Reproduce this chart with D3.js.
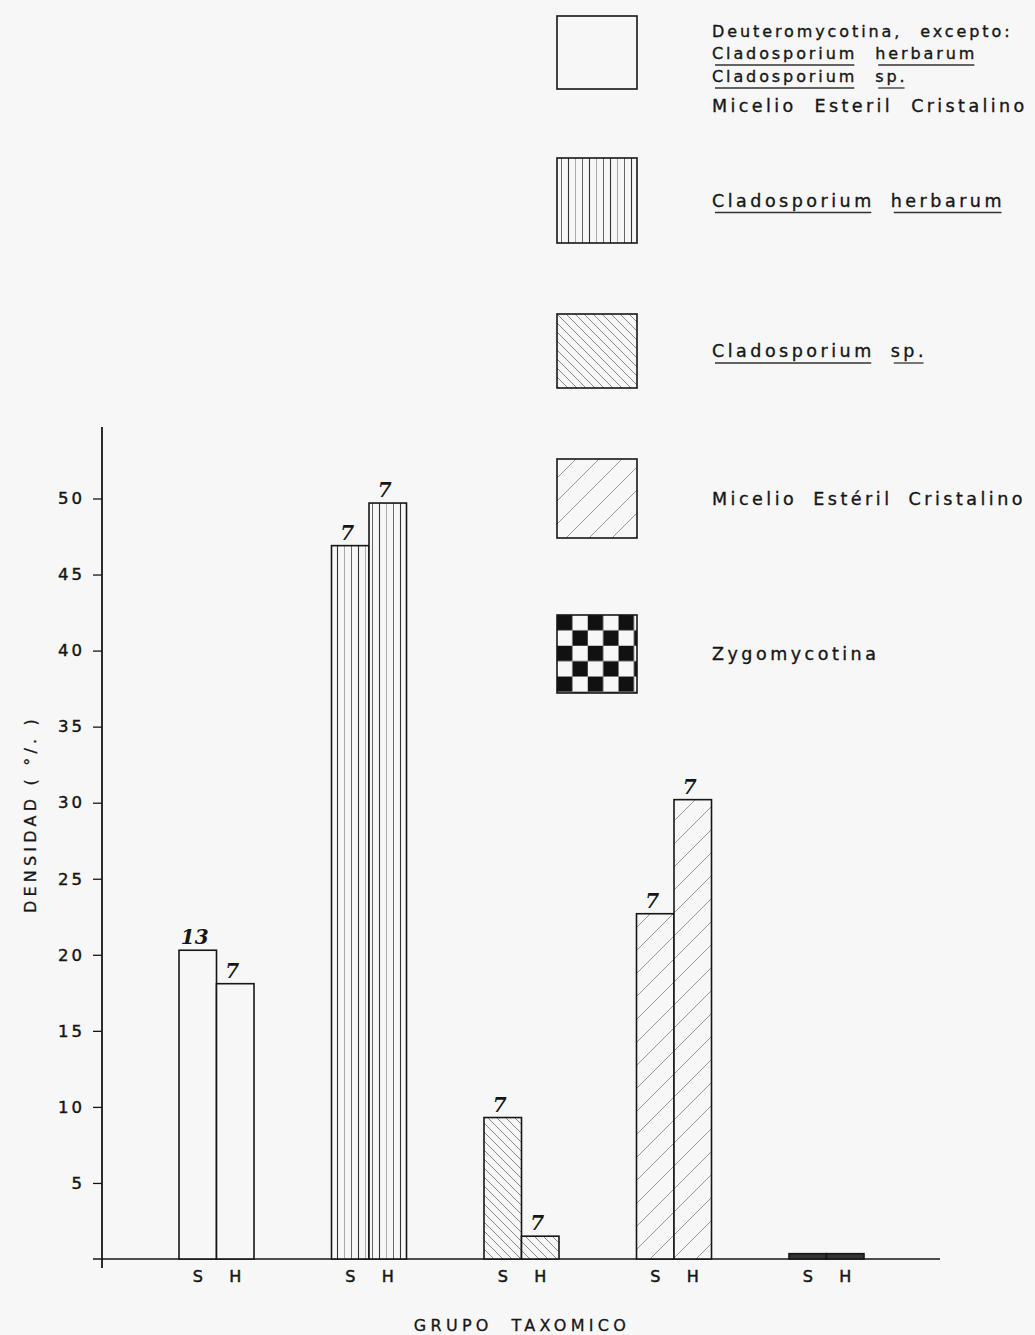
<!DOCTYPE html>
<html><head><meta charset="utf-8">
<script src="https://cdn.jsdelivr.net/npm/d3@7"></script>
<style>body{margin:0;background:#f7f7f7} svg{display:block}</style>
</head><body><svg id="c" width="1035" height="1335"></svg>
<script>
// ---------- data ----------
const groups = ["Deuteromycotina", "Cladosporium herbarum", "Cladosporium sp.", "Micelio Estéril Cristalino", "Zygomycotina"];
const seasons = ["S", "H"];
const valuesS = [20.3, 46.9, 9.3, 22.7, 0.35];
const valuesH = [18.1, 49.7, 1.5, 30.2, 0.35];
const countsS = ["13", "7", "7", "7", ""];
const countsH = ["7", "7", "7", "7", ""];
const yTicks = [5, 10, 15, 20, 25, 30, 35, 40, 45, 50];
const yMax = 54.7;
const groupPattern = ["plain", "vert", "back", "fwd", "check"];
const yTitle = "DENSIDAD ( °/. )";
const xTitle = "GRUPO  TAXOMICO";
// legend lines: [word, underlined]
const legendText = [
  [[["Deuteromycotina,", 0], ["excepto:", 0]],
   [["Cladosporium", 1], ["herbarum", 1]],
   [["Cladosporium", 1], ["sp.", 1]],
   [["Micelio", 0], ["Esteril", 0], ["Cristalino", 0]]],
  [[["Cladosporium", 1], ["herbarum", 1]]],
  [[["Cladosporium", 1], ["sp.", 1]]],
  [[["Micelio", 0], ["Estéril", 0], ["Cristalino", 0]]],
  [[["Zygomycotina", 0]]]
];

// ---------- layout ----------
const bg = "#f7f7f7", ink = "#161616";
const axisX = 102, baseY = 1259, topY = 427;
const font = "'DejaVu Sans', sans-serif";
const svg = d3.select("#c");
svg.append("rect").attr("width", 1035).attr("height", 1335).attr("fill", bg);
const defs = svg.append("defs");

const legendX = 557, boxW = 80;
const boxTop = [16, 158, 314, 459, 615];
const boxHt = [73, 85, 74, 79, 78];

function pat(id, w, h) {
  const p = defs.append("pattern").attr("id", id).attr("patternUnits", "userSpaceOnUse")
    .attr("width", w).attr("height", h);
  p.append("rect").attr("width", w).attr("height", h).attr("fill", bg);
  return p;
}
const pv = pat("vert", 21, 10);
[[1.5, "#333", 1.1], [8.5, "#aaa", 1], [15.5, "#666", 1]].forEach(([x, c, sw]) =>
  pv.append("line").attr("x1", x).attr("x2", x).attr("y1", 0).attr("y2", 10).attr("stroke", c).attr("stroke-width", sw));
const pb = pat("back", 9, 9);
pb.append("path").attr("d", "M0,0L9,9M-1,8L1,10M8,-1L10,1").attr("stroke", "#8a8a8a").attr("stroke-width", 1);
const pf = pat("fwd", 23, 23);
pf.append("path").attr("d", "M0,23L23,0M-2,2L2,-2M21,25L25,21").attr("stroke", "#999").attr("stroke-width", 1);
const cell = boxW / 5.2;
const pc = pat("check", cell * 2, cell * 2).attr("x", legendX).attr("y", boxTop[4]);
pc.append("rect").attr("width", cell).attr("height", cell).attr("fill", "#111");
pc.append("rect").attr("x", cell).attr("y", cell).attr("width", cell).attr("height", cell).attr("fill", "#111");

const fillFor = p => p === "plain" ? bg : `url(#${p})`;

// ---------- scales ----------
const y = d3.scaleLinear().domain([0, yMax]).range([baseY, topY]);
const x0 = d3.scalePoint().domain(groups).range([216.5, 826.5]);
const x1 = d3.scaleBand().domain(seasons).range([-37.5, 37.5]);

// ---------- axes ----------
const yAxis = svg.append("g").attr("transform", `translate(${axisX},0)`)
  .call(d3.axisLeft(y).tickValues(yTicks).tickSize(9).tickPadding(11).tickSizeOuter(0));
yAxis.select(".domain").remove();
yAxis.selectAll(".tick line").attr("stroke", ink).attr("stroke-width", 1.3);
yAxis.selectAll(".tick text").attr("font-family", font).attr("font-size", 16.5)
  .attr("letter-spacing", 3).attr("fill", ink).attr("stroke", ink).attr("stroke-width", 0.45).attr("dx", 3);
svg.append("line").attr("x1", axisX).attr("x2", axisX).attr("y1", y(yMax)).attr("y2", y(0) + 9)
  .attr("stroke", ink).attr("stroke-width", 1.8);
svg.append("line").attr("x1", axisX - 9).attr("x2", 940).attr("y1", y(0)).attr("y2", y(0))
  .attr("stroke", ink).attr("stroke-width", 1.6);

// ---------- bars ----------
const rows = groups.flatMap((g, i) => seasons.map(s => ({
  g, s, p: groupPattern[i],
  v: s === "S" ? valuesS[i] : valuesH[i],
  n: s === "S" ? countsS[i] : countsH[i]
})));
const bw = x1.bandwidth();
svg.append("g").selectAll("rect").data(rows).join("rect")
  .attr("x", d => x0(d.g) + x1(d.s)).attr("width", bw)
  .attr("y", d => y(d.v)).attr("height", d => y(0) - y(d.v))
  .attr("fill", d => d.p === "check" ? "#333" : fillFor(d.p))
  .attr("stroke", ink).attr("stroke-width", 1.6);

svg.append("g").selectAll("text").data(rows.filter(d => d.n)).join("text")
  .attr("x", d => x0(d.g) + x1(d.s) + bw / 2 - 3).attr("y", d => y(d.v) - 6)
  .attr("text-anchor", "middle").attr("font-family", "'DejaVu Serif', serif")
  .attr("font-style", "italic").attr("font-weight", "bold").attr("font-size", 20)
  .attr("fill", ink).text(d => d.n);

svg.append("g").selectAll("text").data(rows).join("text")
  .attr("x", d => x0(d.g) + x1(d.s) + bw / 2).attr("y", y(0) + 23)
  .attr("text-anchor", "middle").attr("font-family", font).attr("font-size", 16)
  .attr("fill", ink).attr("stroke", ink).attr("stroke-width", 0.5).text(d => d.s);

// ---------- titles ----------
svg.append("text").attr("x", 522).attr("y", 1331).attr("text-anchor", "middle")
  .attr("font-family", font).attr("font-size", 16).attr("letter-spacing", 4.3)
  .attr("fill", ink).attr("stroke", ink).attr("stroke-width", 0.3)
  .attr("xml:space", "preserve").style("white-space", "pre").text(xTitle);
svg.append("text").attr("transform", "translate(36,814) rotate(-90)").attr("text-anchor", "middle")
  .attr("font-family", font).attr("font-size", 16).attr("letter-spacing", 4.2)
  .attr("fill", ink).attr("stroke", ink).attr("stroke-width", 0.3).text(yTitle);

// ---------- legend ----------
const leg = svg.append("g");
groupPattern.forEach((p, i) => {
  const top = boxTop[i], h = boxHt[i], cy = top + h / 2;
  leg.append("rect").attr("x", legendX).attr("y", top).attr("width", boxW).attr("height", h)
    .attr("fill", fillFor(p)).attr("stroke", ink).attr("stroke-width", 1.6);
  const lines = legendText[i];
  const multi = lines.length > 1;
  const offs = multi ? [-15.5, 6.5, 29.5, 59.5] : [6];
  lines.forEach((words, li) => {
    const fs = multi ? (li === 3 ? 17.5 : 16) : 17.5;
    const ls = multi ? (li === 3 ? 3.4 : 2.9) : 3.5;
    const gap = multi ? 18 : 16;
    let cx = 712;
    const by = cy + offs[li];
    words.forEach(([w, u]) => {
      const t = leg.append("text").attr("x", cx).attr("y", by).attr("font-family", font)
        .attr("font-size", fs).attr("letter-spacing", ls).attr("fill", ink)
        .attr("stroke", ink).attr("stroke-width", 0.35).text(w);
      const len = t.node().getComputedTextLength();
      if (u) leg.append("line").attr("x1", cx + 3).attr("x2", cx + len - ls).attr("y1", by + 6).attr("y2", by + 6)
        .attr("stroke", "#333").attr("stroke-width", 1.3);
      cx += len + gap;
    });
  });
});
</script></body></html>
